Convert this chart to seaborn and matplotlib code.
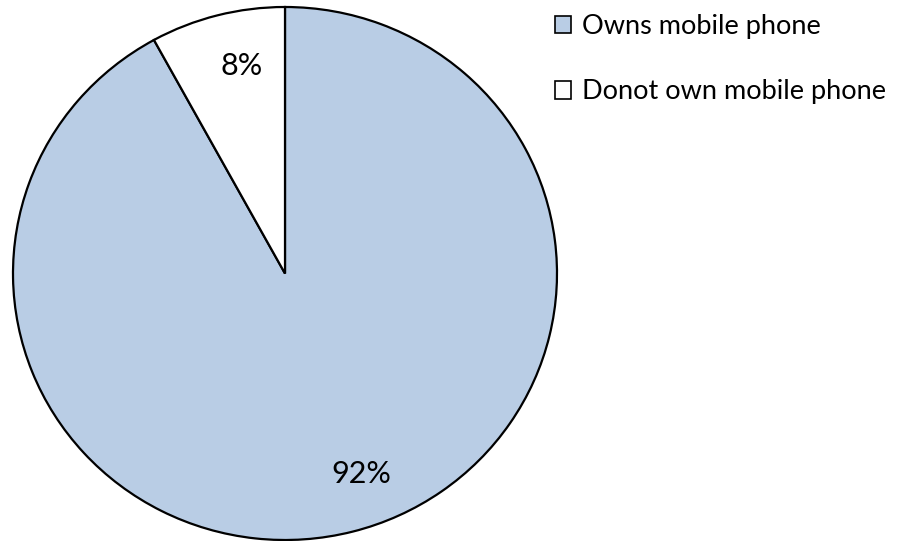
import matplotlib
matplotlib.use("Agg")
import matplotlib.pyplot as plt
import seaborn as sns
from matplotlib.patches import Patch

categories = ["Owns mobile phone", "Donot own mobile phone"]
values = [92, 8]
labels = ["92%", "8%"]
colors = ["#B9CDE5", "#FFFFFF"]

sns.set_theme(style="white")
plt.rcParams['font.family'] = ['Lato', 'DejaVu Sans']

W, H = 897, 541
fig = plt.figure(figsize=(W/100, H/100), dpi=100)
# pie ellipse bounding box in pixels
x0, x1, y0, y1 = 13, 557, 7, 540
ax = fig.add_axes([x0/W, 1 - y1/H, (x1-x0)/W, (y1-y0)/H])
wedges, texts = ax.pie(values, colors=colors, startangle=90, counterclock=False,
                       wedgeprops=dict(edgecolor="black", linewidth=1.6),
                       labels=labels, labeldistance=0.79)
# label placement (axes-data units) as in the reference
label_pos = [(0.279, -0.752), (-0.160, 0.780)]
for t, p in zip(texts, label_pos):
    t.set_fontsize(22)
    t.set_color("black")
    t.set_ha("center")
    t.set_va("center")
    t.set_position(p)
ax.set_aspect("auto")
ax.set_xlim(-1, 1)
ax.set_ylim(-1, 1)
ax.axis("off")

handles = [Patch(facecolor=c, edgecolor="black", linewidth=1.2) for c in colors]
fig.legend(handles, categories, loc="upper left", bbox_to_anchor=(544/W, 1 - 3/H),
           frameon=False, fontsize=19.5, handlelength=0.6, handleheight=0.6,
           handletextpad=0.4, labelspacing=1.5, borderaxespad=0,
           labelcolor="black")

fig.savefig("out.png", dpi=100)
